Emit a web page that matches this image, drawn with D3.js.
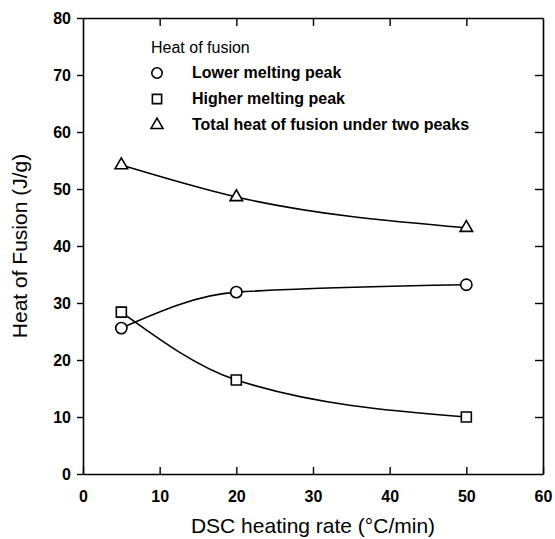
<!DOCTYPE html>
<html>
<head>
<meta charset="utf-8">
<script src="https://cdn.jsdelivr.net/npm/d3@7"></script>
<style>
  body { margin: 0; background: #fff; }
  text { font-family: "Liberation Sans", Arial, sans-serif; fill: #000; }
</style>
</head>
<body>
<script>
// data
var rates = [5, 20, 50];
var lowerPeak = [25.6, 31.9, 33.2];
var higherPeak = [28.4, 16.5, 10.0];
var totalHeat = [54.2, 48.6, 43.2];
var xTicks = [0, 10, 20, 30, 40, 50, 60];
var yTicks = [0, 10, 20, 30, 40, 50, 60, 70, 80];
var legendLabels = ["Lower melting peak", "Higher melting peak", "Total heat of fusion under two peaks"];
var symbols = [d3.symbolCircle, d3.symbolSquare, d3.symbolTriangle];

var width = 555, height = 539;
var plotL = 83, plotR = 543, plotT = 18, plotB = 474;

var svg = d3.select("body")
    .append("svg")
    .attr("width", width)
    .attr("height", height);

var xScale = d3.scaleLinear().domain([0, 60]).range([plotL, plotR]);
var yScale = d3.scaleLinear().domain([0, 80]).range([plotB, plotT]);

// frame axes, ticks on the inside except left
var xAxis = d3.axisBottom(xScale).tickValues(xTicks).tickSizeInner(-7).tickSizeOuter(0).tickPadding(17);
var xTop = d3.axisTop(xScale).tickValues(xTicks.slice(1, -1)).tickSizeInner(-8).tickSizeOuter(0).tickFormat("");
var yAxis = d3.axisLeft(yScale).tickValues(yTicks).tickSizeInner(6).tickSizeOuter(0).tickPadding(6);
var yRight = d3.axisRight(yScale).tickValues(yTicks.slice(1, -1)).tickSizeInner(-8).tickSizeOuter(0).tickFormat("");

function styleAxis(g) {
    g.selectAll(".domain").attr("stroke", "#000").attr("stroke-width", 1.6);
    g.selectAll(".tick line").attr("stroke", "#000").attr("stroke-width", 1.4);
    g.selectAll(".tick text")
        .style("font-family", "Liberation Sans, Arial, sans-serif")
        .style("font-size", "16px")
        .style("font-weight", "bold");
}

svg.append("g").attr("transform", "translate(0," + plotB + ")").call(xAxis).call(styleAxis);
svg.append("g").attr("transform", "translate(0," + plotT + ")").call(xTop).call(styleAxis);
svg.append("g").attr("transform", "translate(" + plotL + ",0)").call(yAxis).call(styleAxis);
svg.append("g").attr("transform", "translate(" + plotR + ",0)").call(yRight).call(styleAxis);

// axis titles
svg.append("text")
    .attr("x", (plotL + plotR) / 2)
    .attr("y", 533)
    .attr("text-anchor", "middle")
    .style("font-size", "21px")
    .text("DSC heating rate (\u00B0C/min)");

svg.append("text")
    .attr("transform", "translate(27," + (plotT + plotB) / 2 + ") rotate(-90)")
    .attr("text-anchor", "middle")
    .style("font-size", "21px")
    .text("Heat of Fusion (J/g)");

// smooth curves + hollow markers
var series = [lowerPeak, higherPeak, totalHeat];
var line = d3.line()
    .x(function(d, i) { return xScale(rates[i]); })
    .y(function(d) { return yScale(d); })
    .curve(d3.curveMonotoneX);

series.forEach(function(s) {
    svg.append("path")
        .attr("d", line(s))
        .attr("fill", "none")
        .attr("stroke", "#000")
        .attr("stroke-width", 1.6);
});

series.forEach(function(s, k) {
    svg.selectAll(".m" + k)
        .data(s)
        .enter()
        .append("path")
        .attr("class", "m" + k)
        .attr("transform", function(d, i) { return "translate(" + xScale(rates[i]) + "," + yScale(d) + ")"; })
        .attr("d", d3.symbol().type(symbols[k]).size(k == 2 ? 68 : 100))
        .attr("fill", "#fff")
        .attr("stroke", "#000")
        .attr("stroke-width", 1.6);
});

// legend
svg.append("text")
    .attr("x", 151)
    .attr("y", 53)
    .style("font-size", "16px")
    .text("Heat of fusion");

legendLabels.forEach(function(lbl, k) {
    var yy = 73 + k * 26;
    svg.append("path")
        .attr("transform", "translate(157," + yy + ")")
        .attr("d", d3.symbol().type(symbols[k]).size(k == 2 ? 62 : 85))
        .attr("fill", "#fff")
        .attr("stroke", "#000")
        .attr("stroke-width", 1.6);
    svg.append("text")
        .attr("x", 192)
        .attr("y", yy + 5)
        .style("font-size", "16px")
        .style("font-weight", "bold")
        .text(lbl);
});
</script>
</body>
</html>
